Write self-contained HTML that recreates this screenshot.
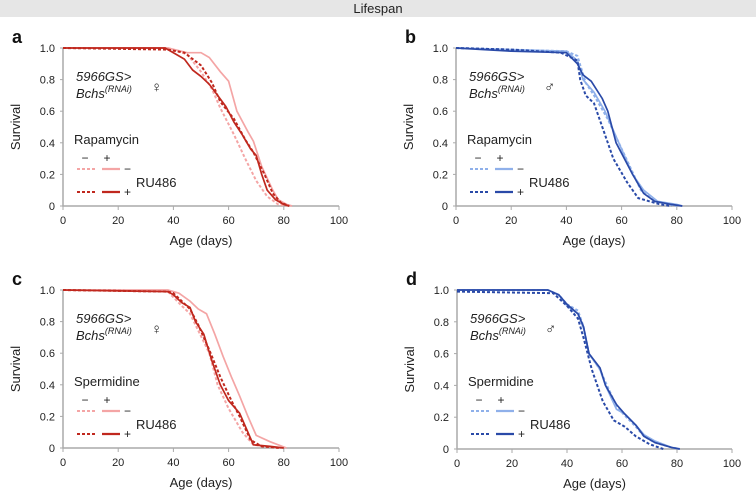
<!DOCTYPE html>
<html><head><meta charset="utf-8"><style>
body{margin:0;background:#fff;}
svg{display:block;font-family:"Liberation Sans",sans-serif;}
</style></head><body>
<svg id="fig" width="756" height="495">
<rect x="0" y="0" width="756" height="17" fill="#e6e6e6"/>
<text x="378" y="13" text-anchor="middle" font-size="13" fill="#222">Lifespan</text>
</svg>
<script>
const ticksX=[0,20,40,60,80,100];
const ticksY=[0,0.2,0.4,0.6,0.8,1.0];
const tickLabelsY=["0","0.2","0.4","0.6","0.8","1.0"];
// panel a (female, rapamycin)
const aAgeLD=[0,38,45,50,54,57,62,66,70,74,78,81];
const aSurvLD=[1,1,0.96,0.85,0.74,0.62,0.45,0.30,0.16,0.06,0.01,0];
const aAgeLS=[0,38,45,50,53,57,60,63,67,69,72,76,78,81,83];
const aSurvLS=[1,1,0.97,0.97,0.94,0.85,0.79,0.60,0.47,0.41,0.25,0.10,0.04,0.01,0];
const aAgeDD=[0,38,44,50,54,57,62,66,69,73,76,79,82];
const aSurvDD=[1,0.99,0.97,0.89,0.78,0.66,0.55,0.42,0.34,0.20,0.08,0.02,0];
const aAgeDS=[0,37,40,44,47,50,53,56,59,62,65,68,70,72,74,77,80,82];
const aSurvDS=[1,1,0.97,0.93,0.86,0.82,0.77,0.70,0.63,0.53,0.45,0.36,0.32,0.20,0.10,0.04,0.01,0];
// panel b (male, rapamycin)
const bAgeLD=[0,20,40,44,47,50,55,59,63,67,72,80];
const bSurvLD=[1,0.99,0.98,0.95,0.78,0.70,0.55,0.40,0.25,0.10,0.03,0];
const bAgeLS=[0,20,40,44,46,50,54,59,64,68,73,80,82];
const bSurvLS=[1,0.99,0.98,0.92,0.80,0.72,0.60,0.40,0.20,0.10,0.03,0.01,0];
const bAgeDD=[0,20,38,44,45,47,50,53,57,62,66,74,78];
const bSurvDD=[1,0.99,0.97,0.92,0.80,0.70,0.65,0.50,0.30,0.15,0.05,0.01,0];
const bAgeDS=[0,20,40,44,46,49,53,55,58,64,68,72,78,82];
const bSurvDS=[1,0.98,0.97,0.90,0.83,0.79,0.68,0.60,0.40,0.20,0.08,0.03,0.01,0];
// panel c (female, spermidine)
const cAgeLD=[0,38,43,46,53,56,60,65,69,78];
const cSurvLD=[1,0.99,0.90,0.85,0.60,0.40,0.25,0.10,0.02,0];
const cAgeLS=[0,38,42,46,49,52,55,58,61,64,67,70,75,81];
const cSurvLS=[1,1,0.98,0.93,0.88,0.85,0.72,0.58,0.45,0.33,0.20,0.08,0.04,0];
const cAgeDD=[0,38,40,46,49,53,57,61,64,68,72,79];
const cSurvDD=[1,0.99,0.98,0.88,0.78,0.62,0.45,0.30,0.20,0.05,0.01,0];
const cAgeDS=[0,38,40,43,46,48,51,54,57,60,64,67,69,75,80];
const cSurvDS=[1,0.99,0.97,0.92,0.89,0.80,0.72,0.55,0.40,0.30,0.22,0.10,0.02,0.01,0];
// panel d (male, spermidine)
const dAgeLD=[0,33,37,40,44,46,48,52,54,58,61,65,68,72,78,81];
const dSurvLD=[1,1,0.97,0.91,0.87,0.77,0.60,0.50,0.42,0.27,0.21,0.14,0.08,0.04,0.01,0];
const dAgeLS=[0,33,37,40,44,46,48,52,54,58,61,65,68,72,78,81];
const dSurvLS=[1,1,0.97,0.90,0.85,0.76,0.60,0.50,0.40,0.25,0.22,0.15,0.09,0.05,0.01,0];
const dAgeDD=[0,35,40,44,46,49,53,57,61,65,70,75];
const dSurvDD=[0.99,0.98,0.90,0.82,0.70,0.50,0.30,0.18,0.14,0.08,0.03,0];
const dAgeDS=[0,33,37,40,44,46,48,52,54,58,61,65,68,72,78,81];
const dSurvDS=[1,1,0.97,0.91,0.85,0.77,0.60,0.51,0.40,0.28,0.22,0.15,0.08,0.04,0.01,0];

const NS="http://www.w3.org/2000/svg";
const svg=document.getElementById('fig');
function mk(tag,attrs,parent,text){const e=document.createElementNS(NS,tag);for(const k in attrs)e.setAttribute(k,attrs[k]);if(text!==undefined)e.textContent=text;(parent||svg).appendChild(e);return e;}

const panels=[
 {id:'a',x0:63,x1:339,yTop:48,yBot:206,sex:'\u2640',drug:'Rapamycin',light:'#f4a5a5',dark:'#c0281e',
  s:[[aAgeLD,aSurvLD,'LD'],[aAgeLS,aSurvLS,'LS'],[aAgeDD,aSurvDD,'DD'],[aAgeDS,aSurvDS,'DS']]},
 {id:'b',x0:456,x1:732,yTop:48,yBot:206,sex:'\u2642',drug:'Rapamycin',light:'#8fb0ea',dark:'#2a4aa8',
  s:[[bAgeLD,bSurvLD,'LD'],[bAgeLS,bSurvLS,'LS'],[bAgeDD,bSurvDD,'DD'],[bAgeDS,bSurvDS,'DS']]},
 {id:'c',x0:63,x1:339,yTop:290,yBot:448,sex:'\u2640',drug:'Spermidine',light:'#f4a5a5',dark:'#c0281e',
  s:[[cAgeLD,cSurvLD,'LD'],[cAgeLS,cSurvLS,'LS'],[cAgeDD,cSurvDD,'DD'],[cAgeDS,cSurvDS,'DS']]},
 {id:'d',x0:457,x1:732,yTop:290,yBot:449,sex:'\u2642',drug:'Spermidine',light:'#8fb0ea',dark:'#2a4aa8',
  s:[[dAgeLD,dSurvLD,'LD'],[dAgeLS,dSurvLS,'LS'],[dAgeDD,dSurvDD,'DD'],[dAgeDS,dSurvDS,'DS']]}
];

panels.forEach(p=>{
 const g=mk('g',{});
 
 
 const sx=v=>p.x0+(p.x1-p.x0)*v/100;
 const sy=v=>p.yBot-(p.yBot-p.yTop)*v;
 const L=mk('text',{x:p.x0-51,y:p.yTop-5,'font-size':18,'font-weight':'bold',fill:'#111'},g,p.id);
 
 
 const ax=mk('path',{d:`M${p.x0},${p.yTop} V${p.yBot} H${p.x1}`,fill:'none',stroke:'#aaa','stroke-width':1.5},g);
 
 
 ticksY.forEach((t,i)=>{
  mk('line',{x1:p.x0-3,x2:p.x0,y1:sy(t),y2:sy(t),stroke:'#aaa'},g);
  const tl=mk('text',{x:p.x0-8,y:sy(t)+4,'font-size':11,'text-anchor':'end',fill:'#222'},g,tickLabelsY[i]);
  
  
 });
 ticksX.forEach(t=>{
  mk('line',{x1:sx(t),x2:sx(t),y1:p.yBot,y2:p.yBot+4,stroke:'#aaa'},g);
  const tl=mk('text',{x:sx(t),y:p.yBot+18,'font-size':11,'text-anchor':'middle',fill:'#222'},g,String(t));
  
  
 });
 const xt=mk('text',{x:(p.x0+p.x1)/2,y:p.yBot+39,'font-size':13,'text-anchor':'middle',fill:'#222'},g,'Age (days)');
 
 
 const yc=(p.yTop+p.yBot)/2;
 const yt=mk('text',{x:p.x0-43,y:yc,'font-size':13,'text-anchor':'middle',fill:'#222',transform:`rotate(-90 ${p.x0-43} ${yc})`},g,'Survival');
 
 
 p.s.forEach(([ages,surv,k])=>{
  const col=k[0]==='L'?p.light:p.dark;
  const dash=k[1]==='D'?'3,2':'none';
  let d='';
  ages.forEach((a,i)=>{d+=(i?'L':'M')+sx(a).toFixed(1)+','+sy(surv[i]).toFixed(1)+' ';});
  const path=mk('path',{d:d,fill:'none',stroke:col,'stroke-width':k[1]==='D'?2:1.7,'stroke-dasharray':dash},g);
  
  
 });
 const bx=p.x0+13, by=p.yTop;
 const t1=mk('text',{x:bx,y:by+33,'font-size':13,'font-style':'italic',fill:'#222'},g,'5966GS>');
 
 
 const t2=mk('text',{x:bx,y:by+50,'font-size':13,'font-style':'italic',fill:'#222'},g);
 
 
 mk('tspan',{},t2,'Bchs');
 mk('tspan',{'font-size':9,dy:-6},t2,'(RNAi)');
 const sx_=mk('text',{x:bx+75,y:by+44,'font-size':15,fill:'#222'},g,p.sex);
 
 
 const dr=mk('text',{x:bx-2,y:by+96,'font-size':13,fill:'#222'},g,p.drug);
 
 
 mk('text',{x:bx+9,y:by+114,'font-size':12,fill:'#222','text-anchor':'middle'},g,'\u2212');
 mk('text',{x:bx+31,y:by+114,'font-size':12,fill:'#222','text-anchor':'middle'},g,'+');
 const rows=[[p.light,by+121,'\u2212'],[p.dark,by+144,'+']];
 rows.forEach(([c,y,s])=>{
  const l1=mk('line',{x1:bx+1,x2:bx+20,y1:y,y2:y,stroke:c,'stroke-width':2,'stroke-dasharray':'3,2'},g);
  
  
  const l2=mk('line',{x1:bx+26,x2:bx+44,y1:y,y2:y,stroke:c,'stroke-width':2.2},g);
  
  
  mk('text',{x:bx+48,y:y+4,'font-size':12,fill:'#222'},g,s);
 });
 const ru=mk('text',{x:bx+60,y:by+139,'font-size':13,fill:'#222'},g,'RU486');
 
 
});
</script>
</body></html>
